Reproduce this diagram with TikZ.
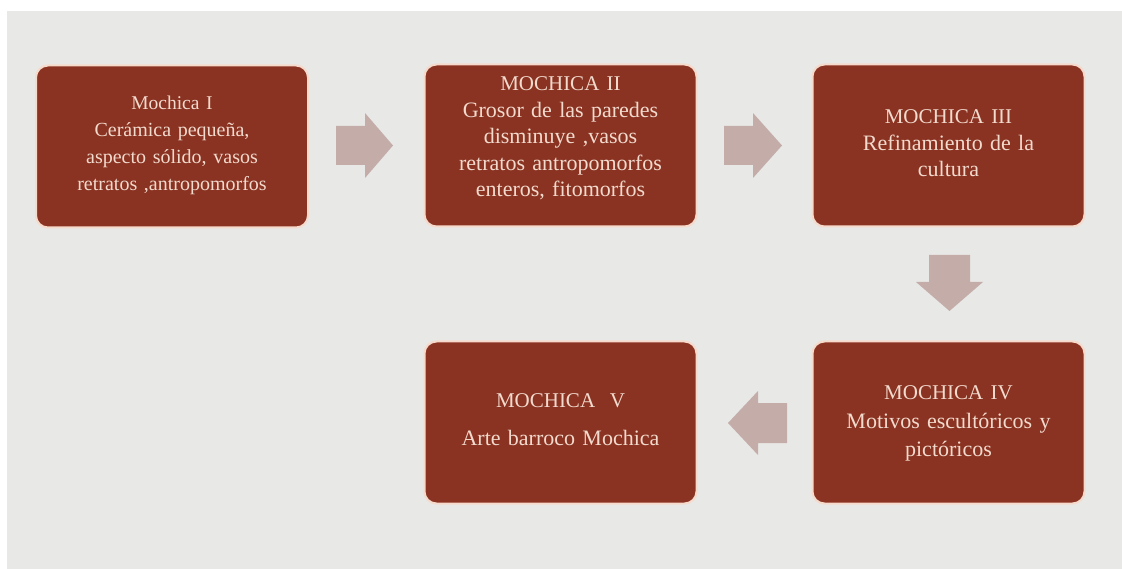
\documentclass[tikz,border=0pt]{standalone}
\usepackage{fontspec}
\setmainfont{Liberation Serif}
\definecolor{bg}{HTML}{E8E8E6}
\definecolor{boxfill}{HTML}{8A3322}
\definecolor{boxline}{HTML}{F6DACB}
\definecolor{boxtext}{HTML}{F2DACD}
\definecolor{arrowc}{HTML}{C4ADA9}
\tikzset{
  stagebox/.style={draw=boxline, line width=2pt, fill=boxfill, rounded corners=12pt,
    minimum width=272pt, minimum height=162pt, inner sep=0pt},
  stagetext/.style={text width=262pt, align=center, text=boxtext,
    font=\fontsize{22}{26.5}\selectfont, inner sep=0pt},
  blockarrow/.style={fill=arrowc, draw=none}
}
\newcommand{\ttlsize}{\fontsize{21}{26.5}\selectfont}
\begin{document}
\begin{tikzpicture}[x=1pt,y=-1pt]
\useasboundingbox (0,0) rectangle (1122,569);
\fill[white] (0,0) rectangle (1122,569);
\fill[bg] (7,11) rectangle (1122,569);

\node[stagebox] (m1) at (172,146.5) {};
\node[stagebox] (m2) at (560.5,145.5) {};
\node[stagebox] (m3) at (948.5,145.5) {};
\node[stagebox] (m4) at (948.5,422.5) {};
\node[stagebox] (m5) at (560.5,422.5) {};

\node[stagetext, font=\fontsize{20}{27}\selectfont] (t1) at ([yshift=1pt]m1.center) {{\fontsize{19.5}{27}\selectfont Mochica I}\\Cerámica pequeña,\\aspecto sólido, vasos\\retratos ,antropomorfos};
\node[stagetext] (t2) at ([yshift=7pt]m2.center) {{\ttlsize MOCHICA II}\\Grosor de las paredes\\disminuye ,vasos\\retratos antropomorfos\\enteros, fitomorfos};
\node[stagetext] (t3) at ([yshift=2pt]m3.center) {{\ttlsize MOCHICA III}\\Refinamiento de la\\cultura};
\node[stagetext, font=\fontsize{22}{28.5}\selectfont] (t4) at ([yshift=-1pt]m4.center) {{\ttlsize MOCHICA IV}\\Motivos escultóricos y\\pictóricos};
\node[stagetext] (t5) at ([yshift=3pt]m5.center) {{\ttlsize MOCHICA\ \ V}\\[12pt]Arte barroco Mochica};

% right arrow m1 -> m2
\fill[blockarrow] (336,126) -- (365,126) -- (365,113) -- (393,145.5) -- (365,178) -- (365,165) -- (336,165) -- cycle;
% right arrow m2 -> m3
\fill[blockarrow] (724,126) -- (753,126) -- (753,113) -- (782,145.5) -- (753,178) -- (753,165) -- (724,165) -- cycle;
% down arrow m3 -> m4
\fill[blockarrow] (929,255) -- (970,255) -- (970,282) -- (983,282) -- (949.5,311) -- (916,282) -- (929,282) -- cycle;
% left arrow m4 -> m5
\fill[blockarrow] (787,403) -- (758,403) -- (758,391) -- (728,423) -- (758,455) -- (758,443) -- (787,443) -- cycle;
\end{tikzpicture}
\end{document}
